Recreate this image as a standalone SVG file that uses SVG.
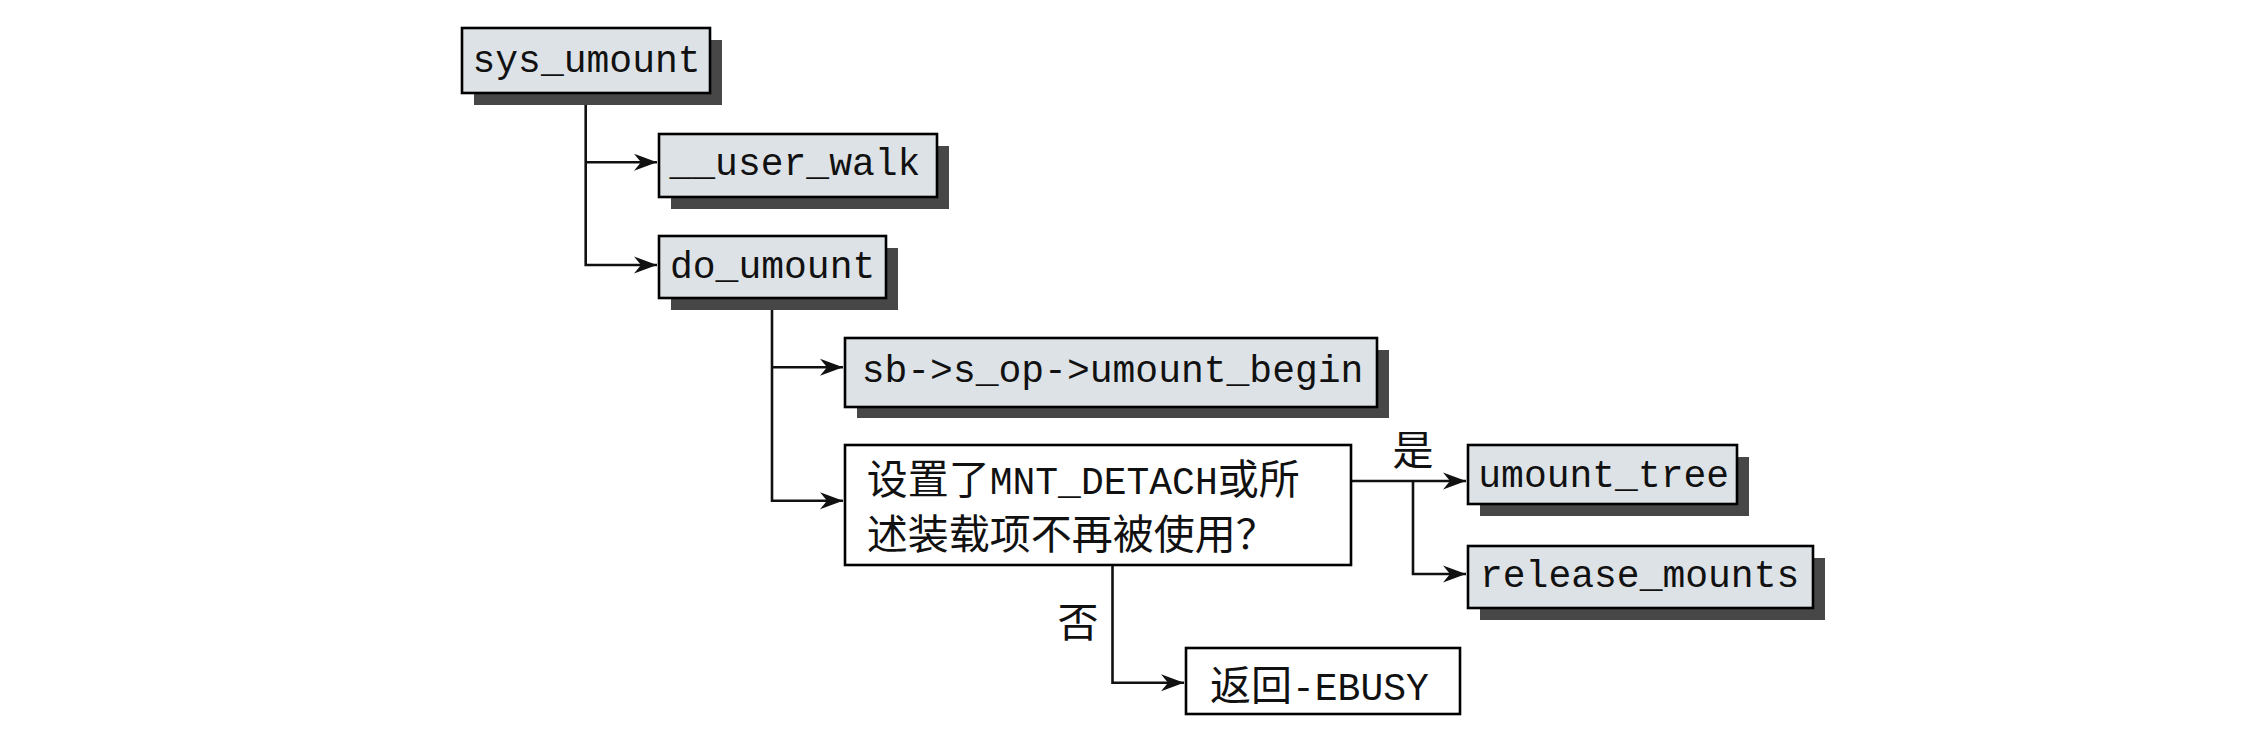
<svg xmlns="http://www.w3.org/2000/svg" width="2265" height="743" viewBox="0 0 2265 743">
<defs>
<style>
.box{fill:#dde2e6;stroke:#000;stroke-width:2.6}
.plain{fill:#fff;stroke:#000;stroke-width:2.6}
.shadow{fill:#474747}
.mono{font-family:"Liberation Mono","DejaVu Sans Mono",monospace;font-size:38px;fill:#111}
.cjk{font-family:"Noto Sans CJK SC","Noto Sans CJK TC",sans-serif;font-size:41px;fill:#111}
.conn{fill:none;stroke:#111;stroke-width:2.6}
</style>
<marker id="arr" markerUnits="userSpaceOnUse" markerWidth="26" markerHeight="20" viewBox="-24 -10 26 20" refX="0" refY="0" orient="auto">
<path d="M0,0 L-23,-8.5 L-16,0 L-23,8.5 Z" fill="#111"/>
</marker>
</defs>
<rect width="2265" height="743" fill="#fff"/>

<g id="connectors">
<path class="conn" d="M585.7,93 V265 H657" marker-end="url(#arr)"/>
<path class="conn" d="M585.7,162.3 H657" marker-end="url(#arr)"/>
<path class="conn" d="M772,298 V500.7 H843" marker-end="url(#arr)"/>
<path class="conn" d="M772,367.3 H843" marker-end="url(#arr)"/>
<path class="conn" d="M1351,481 H1466" marker-end="url(#arr)"/>
<path class="conn" d="M1413,481 V574 H1466" marker-end="url(#arr)"/>
<path class="conn" d="M1112.5,565 V682.7 H1184" marker-end="url(#arr)"/>
<text class="cjk" x="1413" y="465" text-anchor="middle">是</text>
<text class="cjk" x="1078" y="637" text-anchor="middle">否</text>
</g>

<g id="sys_umount">
<rect class="shadow" x="474" y="40" width="248" height="65"/>
<rect class="box" x="462" y="28" width="248" height="65"/>
<text class="mono" x="472.5" y="71.7">sys_umount</text>
</g>

<g id="user_walk">
<rect class="shadow" x="671" y="146" width="278" height="63"/>
<rect class="box" x="659" y="134" width="278" height="63"/>
<text class="mono" x="669.5" y="175">__user_walk</text>
</g>

<g id="do_umount">
<rect class="shadow" x="671" y="248" width="227" height="62"/>
<rect class="box" x="659" y="236" width="227" height="62"/>
<text class="mono" x="670" y="277.7">do_umount</text>
</g>

<g id="umount_begin">
<rect class="shadow" x="857" y="350" width="532" height="68"/>
<rect class="box" x="845" y="338" width="532" height="69"/>
<text class="mono" x="861.7" y="381.7">sb-&gt;s_op-&gt;umount_begin</text>
</g>

<g id="decision">
<rect class="plain" x="845" y="445" width="506" height="120"/>
<text class="cjk" x="866.7" y="494">设置了<tspan class="mono">MNT_DETACH</tspan>或所</text>
<text class="cjk" x="866.7" y="549">述装载项不再被使用？</text>
</g>

<g id="umount_tree">
<rect class="shadow" x="1480" y="457" width="269" height="59"/>
<rect class="box" x="1468" y="445" width="269" height="59"/>
<text class="mono" x="1478.3" y="486.7">umount_tree</text>
</g>

<g id="release_mounts">
<rect class="shadow" x="1480" y="558" width="345" height="62"/>
<rect class="box" x="1468" y="546" width="345" height="62"/>
<text class="mono" x="1480" y="587">release_mounts</text>
</g>

<g id="ebusy">
<rect class="plain" x="1186" y="648" width="274" height="66"/>
<text class="cjk" x="1210" y="700">返回<tspan class="mono">-EBUSY</tspan></text>
</g>
</svg>
